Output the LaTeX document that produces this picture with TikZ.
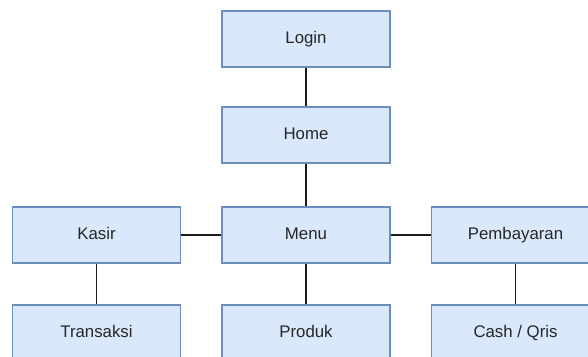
\documentclass[tikz,border=0pt]{standalone}
\usepackage{fontspec}
\setmainfont{Liberation Sans}
\definecolor{boxfill}{HTML}{DAE8FC}
\definecolor{boxdraw}{HTML}{6C8EBF}
\definecolor{linec}{HTML}{1A1A1A}
\begin{document}
\begin{tikzpicture}[x=1pt,y=-1pt,
  box/.style={draw=boxdraw,fill=boxfill,line width=1.4pt,minimum width=168pt,minimum height=56pt,inner sep=0pt,
    text height=12pt,text depth=3.5pt,
    font=\fontsize{16.8}{20}\selectfont,text=black!85},
  conn/.style={draw=linec,line width=1.4pt}]
\clip (0,0) rectangle (588,356);
\fill[white] (0,0) rectangle (588,356);
\node[box] (login) at (306,39) {Login};
\node[box] (home) at (306,135) {Home};
\node[box] (menu) at (306,235) {Menu};
\node[box] (kasir) at (96.5,235) {Kasir};
\node[box] (bayar) at (515.5,235) {Pembayaran};
\node[box] (trans) at (96.5,333) {Transaksi};
\node[box] (produk) at (306,333) {Produk};
\node[box] (cash) at (515.5,333) {Cash / Qris};
\draw[conn] (login) -- (home);
\draw[conn] (home) -- (menu);
\draw[conn] (kasir) -- (menu);
\draw[conn] (menu) -- (bayar);
\draw[conn] (kasir) -- (trans);
\draw[conn] (menu) -- (produk);
\draw[conn] (bayar) -- (cash);
\end{tikzpicture}
\end{document}
